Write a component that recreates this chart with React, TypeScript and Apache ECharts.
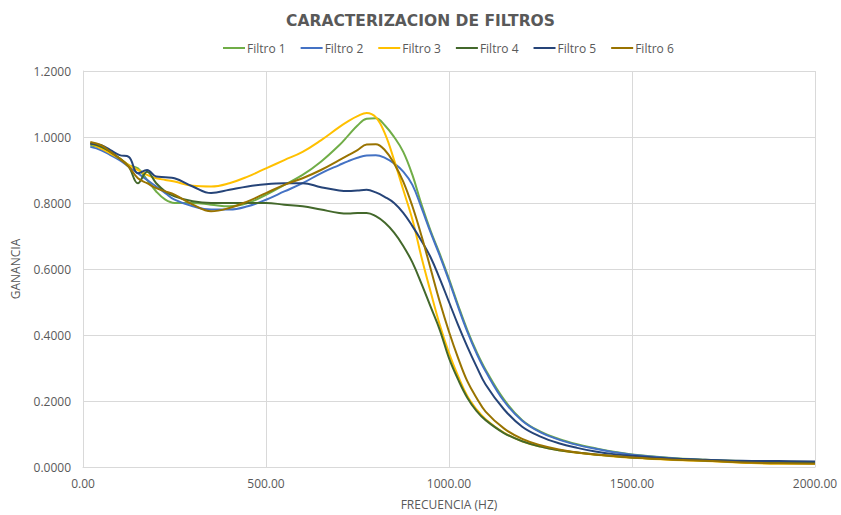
import React, { useEffect, useRef } from "react";
import * as echarts from "echarts";

const frecuencias = [20, 50, 75, 100, 125, 150, 175, 200, 225, 250, 300, 350, 400, 450, 500, 550, 600, 650, 700, 725, 750, 775, 800, 825, 850, 875, 900, 925, 950, 975, 1000, 1025, 1050, 1075, 1100, 1150, 1200, 1250, 1300, 1350, 1400, 1450, 1500, 1600, 1700, 1800, 1900, 2000];

const filtro1 = [0.975, 0.965, 0.95, 0.935, 0.915, 0.905, 0.87, 0.835, 0.81, 0.8,
  0.8, 0.795, 0.79, 0.8, 0.825, 0.855, 0.885, 0.925,
  0.975, 1.005, 1.035, 1.055, 1.057, 1.035, 1.0, 0.955, 0.885, 0.795, 0.715, 0.645, 0.57, 0.49, 0.415, 0.35, 0.295,
  0.205, 0.142, 0.107, 0.085, 0.069, 0.057, 0.046, 0.038,
  0.028, 0.022, 0.018, 0.016, 0.015];
const filtro2 = [0.97, 0.96, 0.945, 0.93, 0.91, 0.89, 0.87, 0.85, 0.83, 0.81,
  0.79, 0.78, 0.78, 0.79, 0.81, 0.835, 0.86, 0.89,
  0.915, 0.927, 0.937, 0.944, 0.945, 0.937, 0.92, 0.895, 0.855, 0.785, 0.71, 0.64, 0.565, 0.485, 0.41, 0.345, 0.29,
  0.2, 0.14, 0.105, 0.083, 0.067, 0.055, 0.045, 0.037,
  0.027, 0.021, 0.017, 0.015, 0.014];
const filtro3 = [0.98, 0.965, 0.95, 0.935, 0.915, 0.9, 0.885, 0.875, 0.87, 0.865,
  0.852, 0.85, 0.86, 0.88, 0.905, 0.93, 0.955, 0.99,
  1.03, 1.048, 1.063, 1.073, 1.06, 1.01, 0.93, 0.84, 0.75, 0.635, 0.53, 0.43, 0.345, 0.275, 0.215, 0.175, 0.145,
  0.104, 0.078, 0.062, 0.051, 0.043, 0.037, 0.032, 0.028,
  0.022, 0.018, 0.013, 0.01, 0.01];
const filtro4 = [0.98, 0.97, 0.955, 0.935, 0.91, 0.86, 0.895, 0.86, 0.835, 0.82,
  0.805, 0.8, 0.8, 0.8, 0.8, 0.795, 0.79, 0.78,
  0.77, 0.768, 0.77, 0.77, 0.76, 0.74, 0.71, 0.67, 0.62, 0.555, 0.485, 0.415, 0.33, 0.265, 0.21, 0.17, 0.142,
  0.103, 0.078, 0.062, 0.051, 0.044, 0.038, 0.033, 0.029,
  0.024, 0.02, 0.016, 0.014, 0.013];
const filtro5 = [0.98, 0.975, 0.96, 0.945, 0.94, 0.89, 0.9, 0.88, 0.878, 0.875,
  0.85, 0.83, 0.84, 0.85, 0.857, 0.86, 0.86, 0.848,
  0.838, 0.836, 0.838, 0.84, 0.832, 0.818, 0.8, 0.77, 0.73, 0.685, 0.635, 0.57, 0.5, 0.43, 0.365, 0.305, 0.25,
  0.175, 0.122, 0.092, 0.072, 0.058, 0.047, 0.039, 0.034,
  0.026, 0.022, 0.019, 0.018, 0.017];
const filtro6 = [0.985, 0.975, 0.955, 0.935, 0.91, 0.875, 0.86, 0.845, 0.835, 0.825,
  0.795, 0.775, 0.785, 0.805, 0.83, 0.855, 0.875, 0.9,
  0.93, 0.945, 0.96, 0.977, 0.978, 0.96, 0.92, 0.865, 0.79, 0.7, 0.6, 0.5, 0.41, 0.33, 0.26, 0.21, 0.168,
  0.117, 0.085, 0.066, 0.053, 0.044, 0.038, 0.033, 0.029,
  0.023, 0.019, 0.014, 0.011, 0.01];

const nombres = ["Filtro 1", "Filtro 2", "Filtro 3", "Filtro 4", "Filtro 5", "Filtro 6"];
const valores = [filtro1, filtro2, filtro3, filtro4, filtro5, filtro6];
const colores = ["#70AD47", "#4472C4", "#FFC000", "#43682B", "#264478", "#997300"];

const FONT = "'Open Sans', 'DejaVu Sans', sans-serif";
const GRAY = "#595959";

export default function App() {
  const ref = useRef<HTMLDivElement>(null);
  useEffect(() => {
    if (!ref.current) return;
    const chart = echarts.init(ref.current, undefined, { renderer: "svg" });
    chart.setOption({
      animation: false,
      backgroundColor: "#ffffff",
      color: colores,
      title: {
        text: "CARACTERIZACION DE FILTROS",
        left: "center",
        top: 8,
        textStyle: { fontFamily: "'DejaVu Sans', sans-serif", fontSize: 15.5, fontWeight: "bold", color: GRAY },
      },
      legend: {
        top: 37,
        left: 218,
        icon: "rect",
        itemWidth: 22,
        itemHeight: 2,
        itemGap: 15,
        textStyle: { fontFamily: FONT, fontSize: 12, color: GRAY, padding: [0, 0, 0, -3] },
        data: nombres,
      },
      grid: { left: 83, right: 26, top: 71, bottom: 48, containLabel: false },
      xAxis: {
        type: "value",
        min: 0,
        max: 2000,
        interval: 500,
        name: "FRECUENCIA (HZ)",
        nameLocation: "middle",
        nameGap: 31,
        nameTextStyle: { fontFamily: FONT, fontSize: 12, color: GRAY },
        axisLine: { show: true, lineStyle: { color: "#D9D9D9", width: 1 } },
        axisTick: { show: false },
        axisLabel: { fontFamily: FONT, fontSize: 12, color: GRAY, margin: 10, formatter: (v: number) => v.toFixed(2) },
        splitLine: { show: true, lineStyle: { color: "#D9D9D9", width: 1 } },
      },
      yAxis: {
        type: "value",
        min: 0,
        max: 1.2,
        interval: 0.2,
        name: "GANANCIA",
        nameLocation: "middle",
        nameGap: 62,
        nameTextStyle: { fontFamily: FONT, fontSize: 12, color: GRAY },
        axisLine: { show: true, lineStyle: { color: "#D9D9D9", width: 1 } },
        axisTick: { show: false },
        axisLabel: { fontFamily: FONT, fontSize: 12, color: GRAY, margin: 12, formatter: (v: number) => v.toFixed(4) },
        splitLine: { show: true, lineStyle: { color: "#D9D9D9", width: 1 } },
      },
      series: nombres.map((n, i) => ({
        name: n,
        type: "line",
        smooth: 0.4,
        showSymbol: false,
        symbol: "none",
        lineStyle: { width: 2, color: colores[i] },
        data: frecuencias.map((f, j) => [f, valores[i][j]]),
      })),
    });
    return () => chart.dispose();
  }, []);
  return <div ref={ref} style={{ position: "fixed", left: 0, top: 0, width: 841, height: 515 }} />;
}
